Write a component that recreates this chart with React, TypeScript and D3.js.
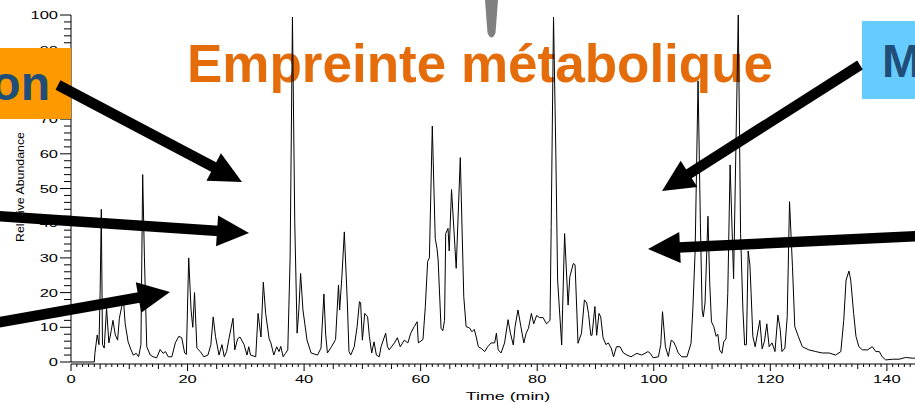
import React from "react";
import * as d3 from "d3";

// Chromatogram (time in min, relative abundance in %)
const times = [
  0, 4.0, 4.1, 4.5, 4.8, 5.0, 5.2, 5.4, 5.7, 6.1, 6.5, 6.9, 7.2, 7.6, 8.0, 8.3, 8.7, 9.0, 9.3, 9.8,
  10.3, 10.7, 11.2, 11.6, 12.0, 12.3, 12.6, 13.0, 13.6, 14.1, 14.7, 15.3, 15.8, 16.2, 16.7, 17.3, 17.9, 18.5, 19.0, 19.5,
  19.8, 20.2, 20.6, 20.9, 21.2, 21.6, 22.2, 22.8, 23.5, 24.0, 24.4, 24.8, 25.4, 25.9, 26.3, 26.7, 27.1, 27.8, 28.1, 28.6,
  29.0, 29.7, 30.2, 30.5, 30.8, 31.7, 32.1, 32.6, 33.0, 33.4, 34.0, 34.3, 34.8, 35.3, 35.7, 36.0, 36.4, 36.8, 37.2, 37.6,
  38.0, 38.4, 38.8, 39.1, 39.4, 39.8, 40.5, 41.2, 42.3, 42.9, 43.4, 43.7, 44.0, 44.7, 45.4, 45.9, 46.1, 46.5, 46.9, 47.4,
  47.7, 48.0, 48.6, 49.1, 49.5, 49.7, 50.0, 50.4, 50.9, 51.2, 51.6, 52.0, 52.4, 52.9, 53.2, 54.0, 54.3, 54.6, 55.5, 56.0,
  56.5, 57.2, 57.8, 58.3, 58.9, 59.4, 59.6, 60.4, 60.8, 61.2, 61.5, 62.0, 62.5, 62.8, 63.0, 63.5, 63.8, 64.1, 64.3, 64.7,
  64.9, 65.3, 66.1, 66.8, 67.4, 67.8, 68.4, 68.8, 69.2, 69.5, 69.9, 70.4, 71.0, 71.5, 72.1, 72.7, 73.0, 73.3, 73.8, 74.4,
  75.0, 75.4, 75.9, 76.2, 76.7, 77.2, 77.7, 78.1, 78.5, 79.0, 79.4, 79.9, 80.4, 81.0, 81.6, 82.2, 82.4, 82.8, 83.2, 83.5,
  84.2, 84.7, 85.3, 85.6, 86.2, 86.5, 87.0, 87.6, 88.1, 88.5, 88.8, 89.2, 89.4, 89.9, 90.2, 90.6, 90.9, 91.3, 91.8, 92.2,
  92.7, 93.1, 93.6, 94.2, 94.8, 95.4, 96.1, 96.6, 97.1, 97.9, 98.5, 99.0, 99.4, 99.9, 100.8, 101.2, 101.5, 102.0, 102.5, 103.0,
  103.4, 103.8, 104.2, 104.8, 105.7, 106.4, 106.7, 107.1, 107.6, 108.0, 108.3, 108.5, 108.8, 109.3, 109.6, 109.9, 110.3, 110.7, 111.0, 111.3,
  111.7, 112.0, 112.4, 112.7, 113.1, 113.7, 114.5, 114.9, 115.3, 115.6, 115.9, 116.2, 116.5, 116.7, 117.0, 117.4, 118.2, 118.6, 119.0, 119.4,
  119.8, 120.3, 120.8, 121.3, 121.7, 122.0, 122.5, 122.9, 123.3, 123.8, 124.2, 124.8, 125.5, 126.6, 127.8, 128.9, 130.1, 131.2, 132.1, 132.6,
  133.0, 133.5, 133.8, 134.3, 134.7, 135.2, 135.8, 136.7, 137.5, 138.1, 138.7, 139.2, 139.8, 141.0, 142.1, 143.2, 144.4, 145.3,
];
const abundance = [
  0, 0, 2.5, 7.8, 5, 20, 44, 5, 4, 15.5, 5.5, 9, 12, 7.8, 6.3, 12.6, 16, 17.9, 11, 5.8,
  3.5, 2, 2.5, 1.5, 5, 54, 30, 4.4, 2, 1.5, 1.2, 3.6, 2.5, 3, 1.5, 1.5, 5.5, 7.4, 7, 2.6,
  2.2, 30, 15, 10, 20, 4, 3, 1.5, 2, 5, 13, 7.3, 2, 5, 1.5, 3, 6.7, 12.6, 3.5, 6.7,
  7.2, 5, 2, 4.4, 2, 1.5, 14, 7.2, 23, 14, 6.7, 5.5, 2, 4.4, 3, 4.5, 1.5, 2.5, 3.5, 30,
  99.4, 40, 8.3, 15, 25.5, 15, 6.3, 2.6, 2, 4, 19.6, 8, 2.6, 4.4, 6.5, 22.2, 15, 25, 37.5, 17.9,
  3, 2, 4.4, 10.2, 17.4, 17, 6.3, 14, 13, 7.4, 2.6, 5.8, 2, 1.5, 4.4, 8.3, 4.4, 3.5, 5.5, 7,
  4.4, 6.3, 5.5, 8.3, 10.2, 11.6, 5.5, 6.5, 16, 29, 30, 68, 35.6, 32.8, 29.4, 9.7, 9, 12, 37, 38.5,
  32, 49.7, 27, 58.9, 18.8, 10.2, 9.8, 8.7, 9.4, 7.5, 4.4, 3.9, 3, 4.4, 5.5, 5.5, 8.3, 3.5, 2.6, 5.5,
  12.2, 8.3, 4.9, 10.2, 15, 10.2, 5.5, 8.3, 9.7, 14, 11, 13.4, 12.8, 12.8, 11, 12, 39, 99.4, 60, 23.6,
  4.9, 37, 16.4, 24.6, 28.4, 28, 5.4, 8.3, 17.9, 17, 14, 7.7, 7.7, 16, 7.7, 14, 13, 7, 5, 5.5,
  4, 1.5, 4.4, 4.4, 2.6, 2, 1.5, 2, 2.5, 2, 2.5, 3, 2.5, 1.2, 1.5, 5, 14.5, 4.4, 1.6, 6.3,
  5.8, 4.4, 2.6, 1.5, 1.5, 5.4, 15, 32, 81, 40, 15, 13, 17, 42, 23, 11.6, 10.2, 7.4, 8, 3.5,
  2.5, 5.8, 6.7, 19.8, 56.8, 24, 100, 37, 15, 4.9, 5, 32, 28, 20, 7.4, 4.4, 12, 3.8, 6, 11,
  4.4, 5.5, 3, 13.5, 9.4, 3, 4, 13, 46.2, 27.5, 10.2, 7.4, 4.4, 3.5, 3, 2.6, 2.6, 2, 3, 12,
  23.6, 26.2, 23.6, 14, 7.4, 4.4, 3.5, 3.5, 4.4, 3, 3, 1.5, 0.6, 0.8, 0.8, 1.3, 1.1, 1.1,
];

const yTickLabels = [0, 10, 20, 30, 40, 50, 60, 70, 80, 90, 100];
const xTickLabels = [0, 20, 40, 60, 80, 100, 120, 140];
const titleText = "Empreinte métabolique";
const leftBoxText = "on";
const rightBoxText = "M";
const xAxisTitle = "Time (min)";
const yAxisTitle = "Relative Abundance";

const ORANGE = "#E46C0A";
const NAVY = "#1F4E79";

type Arrow = { x1: number; y1: number; x2: number; y2: number };
const arrows: Arrow[] = [
  { x1: 58, y1: 85, x2: 242, y2: 182 },
  { x1: -5, y1: 216, x2: 249, y2: 233 },
  { x1: -5, y1: 323, x2: 170, y2: 292 },
  { x1: 860, y1: 65, x2: 662, y2: 191 },
  { x1: 920, y1: 236, x2: 648, y2: 249 },
];

function ArrowShape({ a }: { a: Arrow }) {
  const dx = a.x2 - a.x1;
  const dy = a.y2 - a.y1;
  const len = Math.hypot(dx, dy);
  const ux = dx / len;
  const uy = dy / len;
  const nx = -uy;
  const ny = ux;
  const hl = 32;
  const hw = 31;
  const bx = a.x2 - ux * hl;
  const by = a.y2 - uy * hl;
  const pts = [
    [a.x2, a.y2],
    [bx + (nx * hw) / 2, by + (ny * hw) / 2],
    [bx - (nx * hw) / 2, by - (ny * hw) / 2],
  ];
  return (
    <g>
      <line x1={a.x1} y1={a.y1} x2={bx + ux * 2} y2={by + uy * 2} stroke="#000" strokeWidth={10.5} />
      <polygon points={pts.map((p) => p.join(",")).join(" ")} fill="#000" />
    </g>
  );
}

export default function App() {
  const W = 915;
  const H = 403;
  const x = d3.scaleLinear().domain([0, 145]).range([71, 916]);
  const y = d3.scaleLinear().domain([0, 100]).range([362, 15]);
  const data: [number, number][] = times.map((t, i) => [t, abundance[i]]);
  const path = d3
    .line<[number, number]>()
    .x((d) => x(d[0]))
    .y((d) => y(d[1]))(data) as string;

  const axisY = 364;
  const yMinor = d3.range(0, 100.01, 2);
  const xMinor = d3.range(0, 145.01, 1);
  const font = "'Liberation Sans', Arial, Helvetica, sans-serif";

  return (
    <svg
      width={W}
      height={H}
      viewBox={`0 0 ${W} ${H}`}
      style={{ position: "fixed", left: 0, top: 0, background: "#fff" }}
      fontFamily={font}
    >
      <rect x={0} y={0} width={W} height={H} fill="#fff" />

      {/* title */}
      <text x={187} y={82} fontSize={53} fontWeight="bold" fill={ORANGE}>
        {titleText}
      </text>

      {/* grey drop at top */}
      <path d="M485,0 L498,0 L495.5,33 Q491.5,42 487.5,33 Z" fill="#808080" />

      {/* y axis */}
      <line x1={71} y1={y(100)} x2={71} y2={y(0)} stroke="#000" strokeWidth={1} />
      {yMinor.map((v) => (
        <line key={"ym" + v} x1={v % 10 === 0 ? 60 : 64} x2={71} y1={y(v)} y2={y(v)} stroke="#000" strokeWidth={1} />
      ))}
      {yTickLabels.map((v) => (
        <text
          key={"yl" + v}
          transform={`translate(58,${y(v) + 4}) scale(1.5,1)`}
          textAnchor="end"
          fontSize={11}
          fill="#000"
        >
          {v}
        </text>
      ))}
      <text
        transform={`translate(24,187) rotate(-90)`}
        textAnchor="middle"
        fontSize={11}
        textLength={110}
        lengthAdjust="spacingAndGlyphs"
        fill="#000"
      >
        {yAxisTitle}
      </text>

      {/* x axis */}
      <line x1={71} y1={axisY} x2={915} y2={axisY} stroke="#000" strokeWidth={1} />
      {xMinor.map((v) => (
        <line
          key={"xm" + v}
          x1={x(v)}
          x2={x(v)}
          y1={axisY}
          y2={axisY + (v % 20 === 0 ? 7 : v % 5 === 0 ? 5 : 3)}
          stroke="#000"
          strokeWidth={1}
        />
      ))}
      {xTickLabels.map((v) => (
        <text
          key={"xl" + v}
          transform={`translate(${x(v)},383) scale(1.5,1)`}
          textAnchor="middle"
          fontSize={11}
          fill="#000"
        >
          {v}
        </text>
      ))}
      <text transform={`translate(508,400) scale(1.55,1)`} textAnchor="middle" fontSize={11.5} fill="#000">
        {xAxisTitle}
      </text>

      {/* chromatogram */}
      <path d={path} fill="none" stroke="#000" strokeWidth={1} strokeLinejoin="miter" />

      {/* boxes */}
      <rect x={0} y={48} width={71} height={71} fill="#FF9900" />
      <text x={50} y={100} textAnchor="end" fontSize={48} fontWeight="bold" fill={NAVY}>
        {leftBoxText}
      </text>
      <rect x={862} y={21} width={60} height={78} fill="#66CCFF" />
      <text x={882} y={77} fontSize={47} fontWeight="bold" fill={NAVY}>
        {rightBoxText}
      </text>

      {/* arrows */}
      {arrows.map((a, i) => (
        <ArrowShape key={i} a={a} />
      ))}
    </svg>
  );
}
